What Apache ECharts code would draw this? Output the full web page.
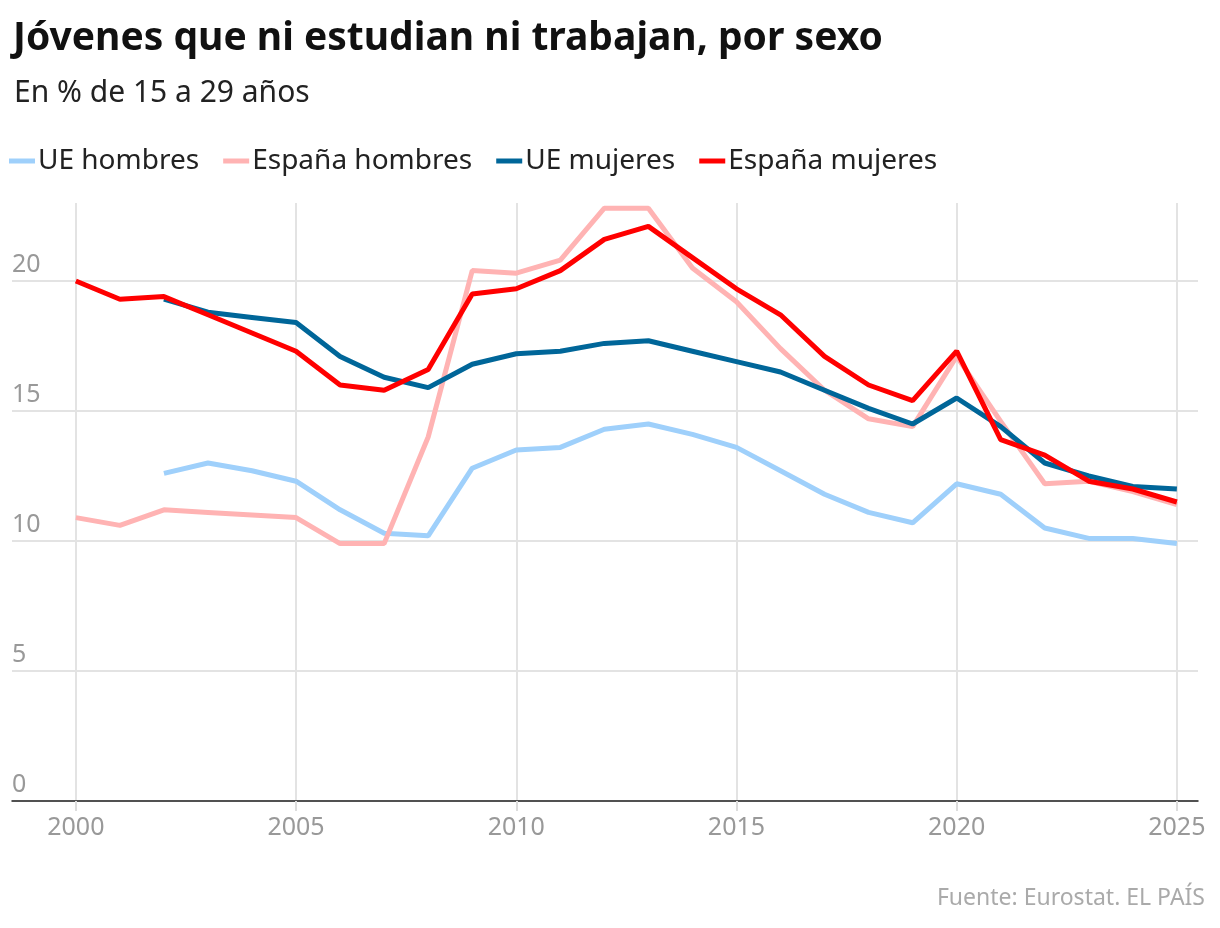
<!DOCTYPE html>
<html>
<head>
<meta charset="utf-8">
<script src="https://cdn.jsdelivr.net/npm/echarts@6/dist/echarts.min.js"></script>
<style>html,body{margin:0;background:#fff}#c{width:1220px;height:928px}</style>
</head>
<body>
<div id="c"></div>
<script>
var years = [2000,2001,2002,2003,2004,2005,2006,2007,2008,2009,2010,2011,2012,2013,2014,2015,2016,2017,2018,2019,2020,2021,2022,2023,2024,2025];
var ueHombres = [null,null,12.6,13.0,12.7,12.3,11.2,10.3,10.2,12.8,13.5,13.6,14.3,14.5,14.1,13.6,12.7,11.8,11.1,10.7,12.2,11.8,10.5,10.1,10.1,9.9];
var espHombres = [10.9,10.6,11.2,11.1,11.0,10.9,9.9,9.9,14.0,20.4,20.3,20.8,22.8,22.8,20.5,19.2,17.4,15.8,14.7,14.4,17.1,14.6,12.2,12.3,11.9,11.4];
var ueMujeres = [null,null,19.3,18.8,18.6,18.4,17.1,16.3,15.9,16.8,17.2,17.3,17.6,17.7,17.3,16.9,16.5,15.8,15.1,14.5,15.5,14.4,13.0,12.5,12.1,12.0];
var espMujeres = [20.0,19.3,19.4,18.7,18.0,17.3,16.0,15.8,16.6,19.5,19.7,20.4,21.6,22.1,20.9,19.7,18.7,17.1,16.0,15.4,17.3,13.9,13.3,12.3,12.0,11.5];
var xTicks = [2000,2005,2010,2015,2020,2025];

function pairs(arr) {
    return years.map(function (y, i) { return [y, arr[i]]; });
}
function line(name, data, color, z) {
    return { name: name, type: 'line', data: pairs(data), showSymbol: false, symbol: 'none', z: z,
        lineStyle: { color: color, width: 5 }, itemStyle: { color: color } };
}

var chart = echarts.init(document.getElementById('c'));
var font = '"Noto Sans", "Open Sans", sans-serif';
chart.setOption({
    animation: false,
    textStyle: { fontFamily: font },
    title: [
        { text: 'Jóvenes que ni estudian ni trabajan, por sexo', left: 8, top: 14,
          textStyle: { fontSize: 39, fontWeight: 'bold', color: '#111', fontFamily: font } },
        { text: 'En % de 15 a 29 años', left: 9, top: 73,
          textStyle: { fontSize: 30, fontWeight: 'normal', color: '#222', fontFamily: font } },
        { text: 'Fuente: Eurostat. EL PAÍS', right: 10, top: 882,
          textStyle: { fontSize: 23, fontWeight: 'normal', color: '#aaa', fontFamily: font } }
    ],
    legend: {
        left: 4, top: 142, itemWidth: 26, itemHeight: 5, itemGap: 24, icon: 'rect',
        textStyle: { fontSize: 28, color: '#222', padding: [0, 0, 0, -2] },
        data: ['UE hombres', 'España hombres', 'UE mujeres', 'España mujeres']
    },
    grid: { left: 12, right: 22, top: 203, bottom: 127 },
    xAxis: {
        type: 'value', min: 1998.55, max: 2025.48,
        axisLine: { lineStyle: { color: '#222', width: 1.5 } },
        axisTick: { show: true, length: 10, customValues: xTicks, lineStyle: { color: '#ddd', width: 2 } },
        axisLabel: { customValues: xTicks, fontSize: 25, color: '#999', margin: 14,
            formatter: function (v) { return String(v); } },
        splitLine: { show: true, lineStyle: { color: '#e3e3e3', width: 2 } }
    },
    yAxis: {
        type: 'value', min: 0, max: 23, interval: 5,
        axisLine: { show: false }, axisTick: { show: false },
        axisLabel: { inside: true, verticalAlign: 'bottom', fontSize: 25, color: '#999', margin: 0,
            padding: [0, 0, 4, 0], showMaxLabel: false },
        splitLine: { show: true, showMaxLine: false, lineStyle: { color: '#e3e3e3', width: 2 } }
    },
    series: [
        line('UE hombres', ueHombres, '#9fd0fb', 2),
        line('España hombres', espHombres, '#ffb3b3', 3),
        line('UE mujeres', ueMujeres, '#006699', 4),
        line('España mujeres', espMujeres, '#ff0000', 5)
    ]
});
</script>
</body>
</html>
